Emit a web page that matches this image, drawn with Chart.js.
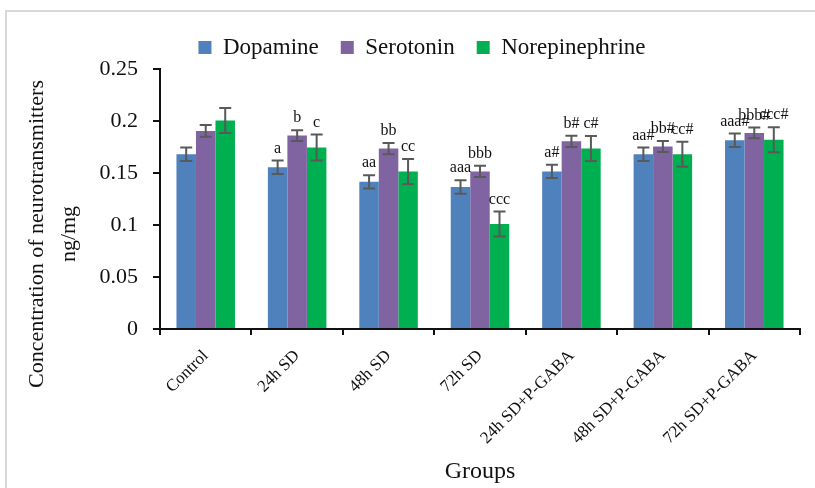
<!DOCTYPE html>
<html>
<head>
<meta charset="utf-8">
<script src="https://cdn.jsdelivr.net/npm/chart.js@4"></script>
<style>
  html, body { margin: 0; padding: 0; background: #fff; }
  #wrap { position: relative; width: 815px; height: 488px; overflow: hidden; }
  #frame { position: absolute; left: 5px; top: 10px; width: 830px; height: 500px; border: 2px solid #d9d9d9; }
  canvas { position: absolute; left: 0; top: 0; }
</style>
</head>
<body>
<div id="wrap">
  <div id="frame"></div>
  <canvas id="ntChart" width="815" height="488"></canvas>
</div>
<script>
const serif = "'Liberation Serif', 'Times New Roman', serif";

const groups = ['Control', '24h SD', '48h SD', '72h SD', '24h SD+P-GABA', '48h SD+P-GABA', '72h SD+P-GABA'];
const yTickLabels = ['0', '0.05', '0.1', '0.15', '0.2', '0.25'];
const yTitleLines = ['Concentration of neurotransmitters', 'ng/mg'];

const dopamine = [0.168, 0.1555, 0.1415, 0.1365, 0.1515, 0.168, 0.1815];
const serotonin = [0.1905, 0.186, 0.1735, 0.1515, 0.1805, 0.1755, 0.1885];
const norepinephrine = [0.2005, 0.1745, 0.1515, 0.101, 0.1735, 0.168, 0.182];

const dopamineErr = [0.0064, 0.0065, 0.0064, 0.0065, 0.0064, 0.0064, 0.0064];
const serotoninErr = [0.0056, 0.0052, 0.0054, 0.0054, 0.0054, 0.0052, 0.0052];
const norepinephrineErr = [0.012, 0.0124, 0.012, 0.012, 0.012, 0.012, 0.012];

const dopamineMarks = ['', 'a', 'aa', 'aaa', 'a#', 'aa#', 'aaa#'];
const serotoninMarks = ['', 'b', 'bb', 'bbb', 'b#', 'bb#', 'bbb#'];
const norepinephrineMarks = ['', 'c', 'cc', 'ccc', 'c#', 'cc#', 'ccc#'];

const errors = [dopamineErr, serotoninErr, norepinephrineErr];
const marks = [dopamineMarks, serotoninMarks, norepinephrineMarks];

// error bars + significance letters
const errorBarPlugin = {
    id: 'errorBars',
    afterDatasetsDraw(chart) {
        const ctx = chart.ctx;
        const y = chart.scales.y;
        ctx.save();
        chart.data.datasets.forEach((ds, di) => {
            const meta = chart.getDatasetMeta(di);
            meta.data.forEach((bar, i) => {
                const v = ds.data[i];
                const e = errors[di][i];
                const top = y.getPixelForValue(v + e);
                const bot = y.getPixelForValue(v - e);
                ctx.strokeStyle = '#595959';
                ctx.lineWidth = 2;
                ctx.beginPath();
                ctx.moveTo(bar.x, top); ctx.lineTo(bar.x, bot);
                ctx.moveTo(bar.x - 6, top); ctx.lineTo(bar.x + 6, top);
                ctx.moveTo(bar.x - 6, bot); ctx.lineTo(bar.x + 6, bot);
                ctx.stroke();
                const m = marks[di][i];
                if (m) {
                    ctx.fillStyle = '#111';
                    ctx.font = '16px ' + serif;
                    ctx.textAlign = 'center';
                    ctx.textBaseline = 'bottom';
                    ctx.fillText(m, bar.x, top - 4);
                }
            });
        });
        ctx.restore();
    }
};

// y title sits a bit lower than the axis middle, so draw it by hand
const yTitlePlugin = {
    id: 'yTitle',
    afterLayout(chart) {
        // nudge legend to the right a little
        chart.legend.left += 11;
        chart.legend.right += 11;
    },
    afterDraw(chart) {
        const ctx = chart.ctx;
        ctx.save();
        ctx.fillStyle = '#111';
        ctx.font = '22px ' + serif;
        ctx.textAlign = 'center';
        ctx.textBaseline = 'middle';
        ctx.translate(0, 234);
        ctx.rotate(-Math.PI / 2);
        ctx.fillText(yTitleLines[0], 0, 37);
        ctx.fillText(yTitleLines[1], 0, 69);
        ctx.restore();
    }
};

const ctx = document.getElementById('ntChart').getContext('2d');
new Chart(ctx, {
    type: 'bar',
    data: {
        labels: groups,
        datasets: [
            { label: 'Dopamine', data: dopamine, backgroundColor: '#4f81bd' },
            { label: 'Serotonin', data: serotonin, backgroundColor: '#8064a2' },
            { label: 'Norepinephrine', data: norepinephrine, backgroundColor: '#00b050' }
        ]
    },
    options: {
        responsive: false,
        animation: false,
        layout: { padding: { left: 22, right: 15, top: 14, bottom: 2 } },
        datasets: {
            bar: { categoryPercentage: 0.64, barPercentage: 1.0, borderWidth: 0 }
        },
        plugins: {
            legend: {
                position: 'top',
                labels: {
                    color: '#111',
                    font: { family: serif, size: 23 },
                    boxWidth: 13,
                    boxHeight: 13,
                    padding: 22
                }
            },
            tooltip: { enabled: false }
        },
        scales: {
            y: {
                min: 0,
                max: 0.25,
                afterFit(scale) { scale.width = 138; },
                afterBuildTicks(scale) {
                    scale.ticks = yTickLabels.map(t => ({ value: parseFloat(t) }));
                },
                ticks: {
                    color: '#111',
                    font: { family: serif, size: 22 },
                    padding: 15,
                    callback: (v, i) => yTickLabels[i]
                },
                border: { color: '#111', width: 2 },
                grid: { drawOnChartArea: false, color: '#111', tickLength: 7, lineWidth: 2 }
            },
            x: {
                afterFit(scale) { scale.height = 157; },
                ticks: {
                    color: '#111',
                    font: { family: serif, size: 17 },
                    maxRotation: 45,
                    minRotation: 45,
                    padding: 11
                },
                border: { color: '#111', width: 2 },
                grid: { offset: true, drawOnChartArea: false, color: '#111', tickLength: 6, lineWidth: 2 },
                title: {
                    display: true,
                    text: 'Groups',
                    color: '#111',
                    font: { family: serif, size: 24 },
                    padding: { top: 0, bottom: 0 }
                }
            }
        }
    },
    plugins: [errorBarPlugin, yTitlePlugin]
});
</script>
</body>
</html>
